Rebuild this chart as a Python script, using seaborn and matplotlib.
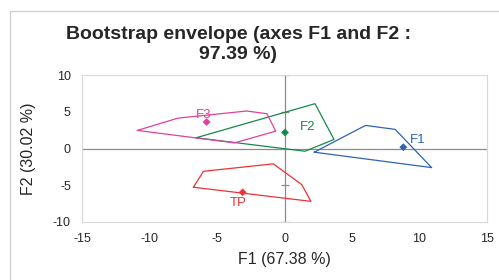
import seaborn as sns
import pandas as pd
import matplotlib.pyplot as plt
from matplotlib.patches import Rectangle

# envelope vertices
groups = ["F1", "F2", "F3", "TP"]
env_x = {
    "F1": [2.2, 6.0, 8.2, 10.9],
    "F2": [-6.55, 2.26, 3.67, 1.52],
    "F3": [-10.9, -7.9, -2.8, -1.3, -0.65, -3.7],
    "TP": [-6.75, -6.0, -0.83, 1.27, 1.96],
}
env_y = {
    "F1": [-0.5, 3.14, 2.6, -2.6],
    "F2": [1.46, 6.1, 1.23, -0.37],
    "F3": [2.46, 4.13, 5.1, 4.73, 2.36, 0.77],
    "TP": [-5.27, -3.1, -2.09, -4.9, -7.19],
}
# centre points
pt_x = [8.8, 0.04, -5.77, -3.1]
pt_y = [0.18, 2.18, 3.6, -5.96]
colors = {"F1": "#2F63B4", "F2": "#16894A", "F3": "#E0409E", "TP": "#EE3239"}

sns.set_style("white")
plt.rcParams['font.family'] = ['Liberation Sans', 'DejaVu Sans']
plt.rcParams['axes.unicode_minus'] = False

fig = plt.figure(figsize=(4.99, 2.80), dpi=100)
fig.patches.append(Rectangle((10 / 499, -0.01), 489.5 / 499, 1 - 10.5 / 280 + 0.01,
                             transform=fig.transFigure, fill=False,
                             edgecolor="#d0d0d0", linewidth=1))
ax = fig.add_axes([82 / 499, 1 - 222 / 280, 405 / 499, 147 / 280])

# axis lines through origin with cross ticks
ax.axhline(0, color="#8c8c8c", lw=0.9, zorder=1)
ax.axvline(0, color="#8c8c8c", lw=0.9, zorder=1)
ticks_y = [-10, -5, 5, 10]
ax.scatter([0] * len(ticks_y), ticks_y, marker="_", s=30, color="#8c8c8c", lw=0.9, zorder=1)

for g in groups:
    xs = env_x[g] + env_x[g][:1]
    ys = env_y[g] + env_y[g][:1]
    df = pd.DataFrame({"x": xs, "y": ys})
    sns.lineplot(data=df, x="x", y="y", sort=False, estimator=None,
                 color=colors[g], lw=0.9, ax=ax)

pts = pd.DataFrame({"x": pt_x, "y": pt_y, "g": groups})
sns.scatterplot(data=pts, x="x", y="y", hue="g", palette=colors, marker="D",
                s=16, edgecolor="none", legend=False, ax=ax, zorder=3)

lab_off = {"F1": (1.1, 1.0), "F2": (1.7, 0.7), "F3": (-0.2, 1.0), "TP": (-0.3, -1.4)}
for g, x, y in zip(groups, pt_x, pt_y):
    dx, dy = lab_off[g]
    ax.text(x + dx, y + dy, g, color=colors[g], fontsize=9.5, ha="center", va="center")

ax.set_xlim(-15, 15)
ax.set_ylim(-10, 10)
ax.set_xticks([-15, -10, -5, 0, 5, 10, 15])
ax.set_yticks([-10, -5, 0, 5, 10])
ax.tick_params(labelsize=9, length=0, pad=8, colors="#262626")
for s in ax.spines.values():
    s.set_color("#d9d9d9")
    s.set_linewidth(0.8)
ax.set_xlabel("F1 (67.38 %)", fontsize=11.5, color="#262626", labelpad=5)
ax.set_ylabel("F2 (30.02 %)", fontsize=11.5, color="#262626", labelpad=12)

fig.text(0.477, 0.84, "Bootstrap envelope (axes F1 and F2 :\n97.39 %)",
         ha="center", va="center", fontsize=14, fontweight="bold",
         color="#262626", linespacing=1.25)

fig.savefig("out.png", dpi=100)
